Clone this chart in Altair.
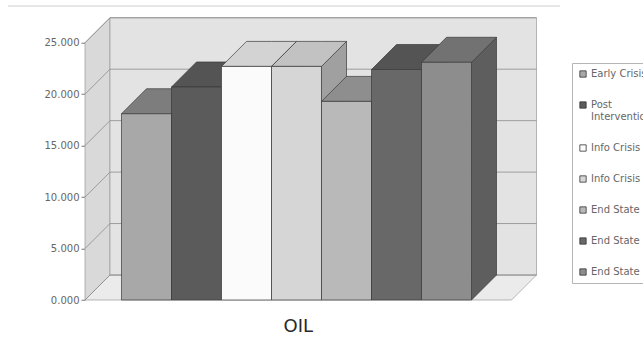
import altair as alt
import pandas as pd

# ---- data -------------------------------------------------------------
category = "OIL"
series_names = ["Early Crisis", "Post Intervention", "Info Crisis", "Info Crisis",
                "End State", "End State", "End State"]
oil_values = [18.1, 20.7, 22.7, 22.7, 19.3, 22.4, 23.1]
tick_values = [0, 5, 10, 15, 20, 25]

# ---- styling ----------------------------------------------------------
front_colors = ["#a8a8a8", "#5b5b5b", "#fbfbfb", "#d6d6d6", "#b9b9b9", "#686868", "#8d8d8d"]
top_colors = ["#7d7d7d", "#545454", "#d3d3d3", "#c2c2c2", "#8e8e8e", "#545454", "#727272"]
side_colors = ["#787878", "#474747", "#c4c4c4", "#a0a0a0", "#8a8a8a", "#4b4b4b", "#5e5e5e"]
wall_colors = {"back": "#e3e3e3", "left": "#d9d9d9", "floor": "#ebebeb"}
FONT = "DejaVu Sans"

# ---- oblique 3-D geometry (x in bar widths, y in data units) ----------
LEFT_GAP, RIGHT_GAP = 0.73, 0.8
DEPTH_X, DEPTH_Y = 0.5, 2.43
Y_MAX = 25
PX_PER_X, PX_PER_Y = 50, 10.29

n = len(oil_values)
keys = [str(i) for i in range(n)]
front_w = LEFT_GAP + n + RIGHT_GAP
x_max = front_w + DEPTH_X
y_max = Y_MAX + DEPTH_Y
plot_w = x_max * PX_PER_X
plot_h = y_max * PX_PER_Y
pad_left, pad_bottom = 85, 50
pad_top = 350 - pad_bottom - plot_h

x_scale = alt.Scale(domain=[0, x_max], nice=False, zero=False)
y_scale = alt.Scale(domain=[0, y_max], nice=False, zero=False)

# walls and floor as polygons (area: x, lower edge, upper edge)
walls = pd.DataFrame([
    ("floor", 0, 0, 0), ("floor", DEPTH_X, 0, DEPTH_Y),
    ("floor", front_w, 0, DEPTH_Y), ("floor", front_w + DEPTH_X, DEPTH_Y, DEPTH_Y),
    ("left", 0, 0, Y_MAX), ("left", DEPTH_X, DEPTH_Y, Y_MAX + DEPTH_Y),
    ("back", DEPTH_X, DEPTH_Y, Y_MAX + DEPTH_Y), ("back", x_max, DEPTH_Y, Y_MAX + DEPTH_Y),
], columns=["part", "x", "lo", "hi"])

# gridlines: diagonal on the side wall, horizontal on the back wall
grid_rows = []
for t in tick_values:
    grid_rows += [(t, 0, t), (t, DEPTH_X, t + DEPTH_Y), (t, x_max, t + DEPTH_Y)]
grid = pd.DataFrame(grid_rows, columns=["tick", "x", "y"])

# bar faces
face_rows, front_rows = [], []
for i, v in enumerate(oil_values):
    x0 = LEFT_GAP + i
    x1 = x0 + 1
    face_rows += [
        (f"side{i}", x1, 0, v), (f"side{i}", x1 + DEPTH_X, DEPTH_Y, v + DEPTH_Y),
        (f"top{i}", x0, v, v), (f"top{i}", x0 + DEPTH_X, v, v + DEPTH_Y),
        (f"top{i}", x1, v, v + DEPTH_Y), (f"top{i}", x1 + DEPTH_X, v + DEPTH_Y, v + DEPTH_Y),
    ]
    front_rows.append((keys[i], x0, x1, 0, v))
faces = pd.DataFrame(face_rows, columns=["part", "x", "lo", "hi"])
fronts = pd.DataFrame(front_rows, columns=["key", "x0", "x1", "base", "v"])

fill_domain = list(wall_colors) + [f"side{i}" for i in range(n)] + [f"top{i}" for i in range(n)]
fill_range = list(wall_colors.values()) + side_colors + top_colors
fill_enc = alt.Fill("part:N", scale=alt.Scale(domain=fill_domain, range=fill_range), legend=None)


def js_label(name):
    if len(name) > 12:
        return "[" + ",".join(f"'{w}'" for w in name.split(" ")) + "]"
    return f"'{name}'"


label_expr = "[" + ",".join(js_label(s) for s in series_names) + "][toNumber(datum.value)]"

legend = alt.Legend(
    title=None, orient="none", legendX=572 - pad_left, legendY=63 - pad_top,
    padding=6, strokeColor="#b5b5b5", symbolType="square", symbolSize=40,
    symbolStrokeColor="#333333", symbolStrokeWidth=0.8, labelFont=FONT,
    labelFontSize=10, labelColor="#666666", labelOffset=3, rowPadding=21,
    labelExpr=label_expr,
)

y_axis = alt.Axis(
    values=tick_values, format=".3f", title=None, domain=False, grid=False,
    tickSize=4, tickColor="#777777", labelFont=FONT, labelFontSize=10,
    labelColor="#666666", labelPadding=2,
)


def yq(field):
    return alt.Y(field, scale=y_scale, axis=y_axis)


def xq(field):
    return alt.X(field, scale=x_scale, axis=None)


layers = []

layers.append(
    alt.Chart(walls).mark_area(orient="vertical", stroke="#9a9a9a", strokeWidth=0.7).encode(
        x=xq("x:Q"), y=yq("lo:Q"), y2="hi:Q", fill=fill_enc, detail="part:N",
    )
)

layers.append(
    alt.Chart(grid).mark_line(color="#8c8c8c", strokeWidth=0.8).encode(
        x=xq("x:Q"), y=yq("y:Q"), detail="tick:N",
    )
)

# painter's order: each bar (side, top, front) drawn left to right
for i in range(n):
    for face in ("side", "top"):
        layers.append(
            alt.Chart(faces).transform_filter(alt.datum.part == f"{face}{i}")
            .mark_area(orient="vertical", stroke="#3a3a3a", strokeWidth=0.7).encode(
                x=xq("x:Q"), y=yq("lo:Q"), y2="hi:Q", fill=fill_enc, detail="part:N",
            )
        )
    layers.append(
        alt.Chart(fronts).transform_filter(alt.datum.key == keys[i])
        .mark_rect(stroke="#3a3a3a", strokeWidth=0.7).encode(
            x=xq("x0:Q"), x2="x1:Q", y=yq("base:Q"), y2="v:Q",
            color=alt.Color("key:N", scale=alt.Scale(domain=keys, range=front_colors), legend=legend),
        )
    )

# category label under the floor
layers.append(
    alt.Chart(pd.DataFrame({"label": [category], "xc": [front_w / 2]}))
    .mark_text(font=FONT, fontSize=18, color="#2a2a2a", baseline="middle")
    .encode(x=xq("xc:Q"), y=alt.value(plot_h + 27), text="label:N")
)

# thin frame line above the chart
layers.append(
    alt.Chart(pd.DataFrame({"a": [0]})).mark_rule(color="#cfcfcf", strokeWidth=1).encode(
        x=alt.value(8 - pad_left), x2=alt.value(560 - pad_left), y=alt.value(6 - pad_top)
    )
)

chart = alt.layer(*layers).properties(
    width=plot_w,
    height=plot_h,
    padding={"left": pad_left, "top": pad_top, "right": 643 - pad_left - plot_w, "bottom": pad_bottom},
    autosize=alt.AutoSizeParams(type="none"),
    background="white",
).configure_view(stroke=None)

chart.save("out.html", embed_options={"renderer": "svg", "actions": False})
